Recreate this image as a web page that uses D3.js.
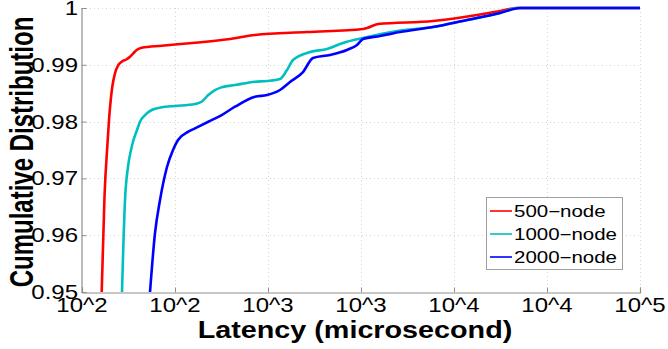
<!DOCTYPE html>
<html>
<head>
<meta charset="utf-8">
<script src="https://cdn.jsdelivr.net/npm/d3@7"></script>
<style>
  html, body { margin: 0; padding: 0; background: #fff; }
  svg { display: block; font-family: "Liberation Sans", Arial, Helvetica, sans-serif; }
</style>
</head>
<body>
<svg id="chart" width="668" height="349"></svg>
<script>
// Latency CDF per cluster size (latency in microseconds, cumulative fraction)
const seriesNames = ["500\u2212node", "1000\u2212node", "2000\u2212node"];
const seriesColors = ["#ff0000", "#00bfbf", "#0000ff"];

const lat500 = [127.6, 132.1, 137.5, 139.7, 142.7, 145.5, 150.4, 156.7, 163.5, 173.9, 181.2, 188.7, 196.8, 209.4, 268.3, 405.0, 609.4, 851.2, 1620, 3242, 3406, 3904, 7711, 13294, 17674, 21815, 30000, 100000];
const cdf500 = [0.9500, 0.96673, 0.97676, 0.98028, 0.98380, 0.98614, 0.98850, 0.98996, 0.99055, 0.99097, 0.99143, 0.99202, 0.99261, 0.99301, 0.99336, 0.99389, 0.99449, 0.99525, 0.99577, 0.99630, 0.99648, 0.99718, 0.99771, 0.99877, 0.99947, 1.0, 1.0, 1.0];

const lat1000 = [164.1, 170.3, 176.7, 183.4, 189.2, 197.6, 205.0, 218.2, 237.0, 268.3, 316.2, 405.0, 440.0, 477.5, 518.9, 563.7, 664.6, 851.2, 987.6, 1160, 1265, 1363, 1682, 2076, 2531, 3242, 4938, 7711, 11745, 17674, 21815, 30000, 100000];
const cdf1000 = [0.9500, 0.96620, 0.97201, 0.97500, 0.97676, 0.97852, 0.97998, 0.98116, 0.98204, 0.98252, 0.98275, 0.98310, 0.98350, 0.98468, 0.98556, 0.98604, 0.98644, 0.98702, 0.98715, 0.98750, 0.98908, 0.99085, 0.99225, 0.99278, 0.99384, 0.99472, 0.99595, 0.99665, 0.99789, 0.99912, 1.0, 1.0, 1.0];

const lat2000 = [232.1, 246.9, 262.7, 286.4, 308.5, 328.2, 372.9, 405.0, 477.5, 563.7, 664.6, 851.2, 987.6, 1160, 1313, 1542, 1746, 2154, 2658, 3009, 3242, 4002, 5126, 7711, 11745, 17674, 22639, 30000, 100000];
const cdf2000 = [0.9500, 0.96039, 0.96620, 0.97201, 0.97500, 0.97676, 0.97822, 0.97882, 0.97998, 0.98116, 0.98262, 0.98438, 0.98468, 0.98556, 0.98697, 0.98873, 0.99120, 0.99173, 0.99261, 0.99349, 0.99454, 0.99507, 0.99577, 0.99665, 0.99789, 0.99912, 1.0, 1.0, 1.0];

// Half-decade ticks on the latency axis
const xTickValues = [100, 316.23, 1000, 3162.3, 10000, 31623, 100000];
const xTickLabels = ["10^2", "10^2", "10^3", "10^3", "10^4", "10^4", "10^5"];
const yTickValues = [0.95, 0.96, 0.97, 0.98, 0.99, 1];
const yTickLabels = ["0.95", "0.96", "0.97", "0.98", "0.99", "1"];

const xTitle = "Latency (microsecond)";
const yTitle = "Cumulative Distribution";

const series = [
  { name: seriesNames[0], color: seriesColors[0], lat: lat500, cdf: cdf500 },
  { name: seriesNames[1], color: seriesColors[1], lat: lat1000, cdf: cdf1000 },
  { name: seriesNames[2], color: seriesColors[2], lat: lat2000, cdf: cdf2000 }
];

const svg = d3.select("#chart");
const plotL = 82, plotR = 640, plotT = 8, plotB = 292;
const sx = 1.2; // horizontal text stretch

const x = d3.scaleLog().domain([100, 100000]).range([plotL, plotR]);
const y = d3.scaleLinear().domain([0.95, 1]).range([plotB, plotT]);

// Dotted grid
const grid = svg.append("g").attr("stroke", "#d4d4d4").attr("stroke-width", 1).attr("stroke-dasharray", "1,3");
grid.selectAll("line.vx").data(xTickValues.slice(1)).join("line")
  .attr("x1", d => Math.round(x(d)) + 0.5).attr("x2", d => Math.round(x(d)) + 0.5)
  .attr("y1", plotT).attr("y2", plotB);
grid.selectAll("line.hy").data(yTickValues.slice(1)).join("line")
  .attr("x1", plotL).attr("x2", plotR)
  .attr("y1", d => Math.round(y(d)) + 0.5).attr("y2", d => Math.round(y(d)) + 0.5);

// Curves
svg.append("clipPath").attr("id", "plotClip").append("rect")
  .attr("x", plotL).attr("y", plotT - 2).attr("width", plotR - plotL + 2).attr("height", plotB - plotT + 2);

const line = d3.line()
  .x(d => x(d[0]))
  .y(d => y(d[1]))
  .curve(d3.curveMonotoneX);

svg.append("g").attr("clip-path", "url(#plotClip)")
  .selectAll("path").data(series).join("path")
  .attr("d", s => line(s.lat.map((v, i) => [v, s.cdf[i]])))
  .attr("fill", "none")
  .attr("stroke", s => s.color)
  .attr("stroke-width", 2.6)
  .attr("stroke-linejoin", "round");

// Axes (left and bottom only, ticks pointing inward)
const axisColor = "#8f8f8f";
const xAxis = d3.axisBottom(x).tickValues(xTickValues).tickSize(-5).tickFormat("");
const yAxis = d3.axisLeft(y).tickValues(yTickValues).tickSize(-5).tickFormat("");
const gx = svg.append("g").attr("transform", `translate(0,${plotB + 0.5})`).call(xAxis);
const gy = svg.append("g").attr("transform", `translate(${plotL - 0.5},0)`).call(yAxis);
[gx, gy].forEach(g => {
  g.select(".domain").attr("stroke", axisColor).attr("stroke-width", 1.2);
  g.selectAll(".tick line").attr("stroke", axisColor);
});

// Tick labels
svg.append("g").selectAll("text").data(xTickValues).join("text")
  .attr("transform", d => `translate(${x(d)},${plotB + 20}) scale(${sx},1)`)
  .attr("text-anchor", "middle")
  .attr("font-size", 20)
  .attr("fill", "#000")
  .text((d, i) => xTickLabels[i]);

svg.append("g").selectAll("text").data(yTickValues).join("text")
  .attr("transform", d => `translate(78,${y(d) + 7}) scale(${sx},1)`)
  .attr("text-anchor", "end")
  .attr("font-size", 20)
  .attr("fill", "#000")
  .text((d, i) => yTickLabels[i]);

// Axis titles
svg.append("text")
  .attr("transform", `translate(355,338) scale(1.25,1)`)
  .attr("text-anchor", "middle")
  .attr("font-size", 23)
  .attr("font-weight", "bold")
  .text(xTitle);

svg.append("text")
  .attr("transform", `translate(33,152) rotate(-90) scale(1,1.35)`)
  .attr("text-anchor", "middle")
  .attr("font-size", 24)
  .attr("font-weight", "bold")
  .text(yTitle);

// Legend
const lg = svg.append("g");
lg.append("rect")
  .attr("x", 486.5).attr("y", 197.5).attr("width", 136).attr("height", 72)
  .attr("fill", "#fff").attr("stroke", "#a0a0a0").attr("stroke-width", 1);
const rows = lg.selectAll("g.row").data(series).join("g")
  .attr("transform", (d, i) => `translate(0,${211 + i * 23})`);
rows.append("line")
  .attr("x1", 490).attr("x2", 512).attr("y1", 0).attr("y2", 0)
  .attr("stroke", d => d.color).attr("stroke-width", 1.6);
rows.append("text")
  .attr("transform", "translate(514,6) scale(1.28,1)")
  .attr("font-size", 16)
  .attr("fill", "#000")
  .text(d => d.name);
</script>
</body>
</html>
